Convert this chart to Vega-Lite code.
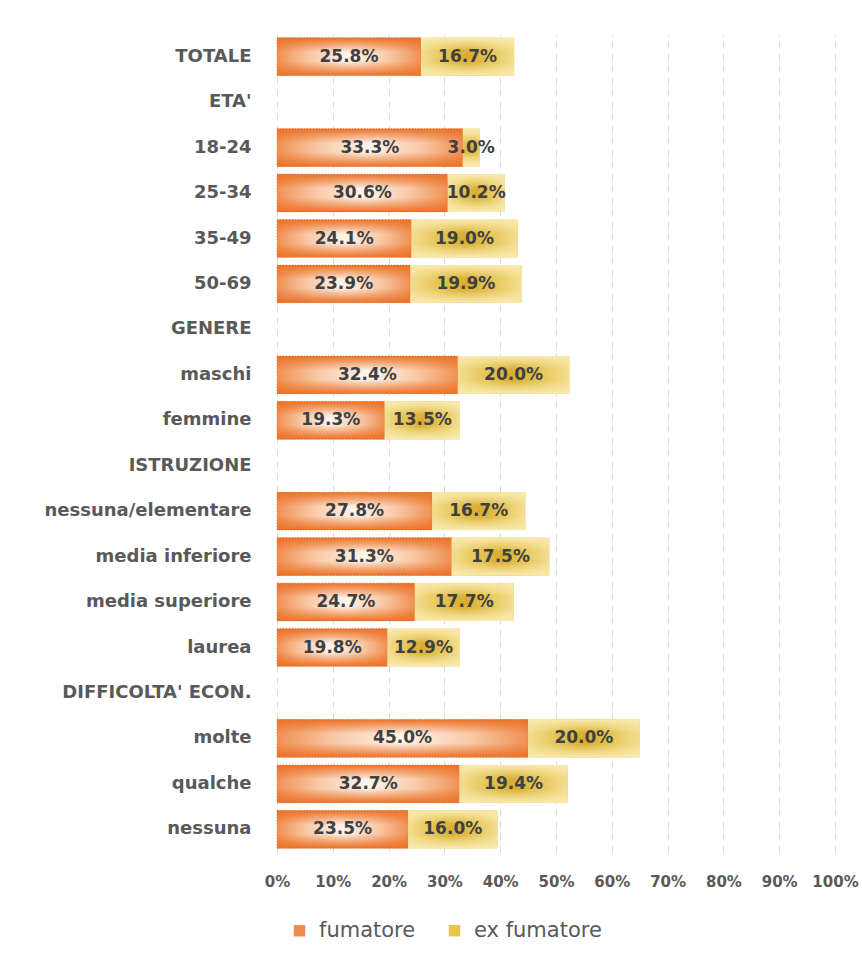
{
  "$schema": "https://vega.github.io/schema/vega-lite/v6.json",
  "width": 558,
  "height": 818,
  "autosize": {"type": "none"},
  "padding": {"left": 277, "top": 34, "right": 27, "bottom": 110},
  "background": "white",
  "config": {
    "view": {"stroke": null},
    "font": "DejaVu Sans"
  },
  "data": {
    "values": [
      {"categoria": "TOTALE", "tipo": "fumatore", "ordine": 1, "valore": 0.258},
      {"categoria": "TOTALE", "tipo": "ex fumatore", "ordine": 2, "valore": 0.167},
      {"categoria": "18-24", "tipo": "fumatore", "ordine": 1, "valore": 0.333},
      {"categoria": "18-24", "tipo": "ex fumatore", "ordine": 2, "valore": 0.030},
      {"categoria": "25-34", "tipo": "fumatore", "ordine": 1, "valore": 0.306},
      {"categoria": "25-34", "tipo": "ex fumatore", "ordine": 2, "valore": 0.102},
      {"categoria": "35-49", "tipo": "fumatore", "ordine": 1, "valore": 0.241},
      {"categoria": "35-49", "tipo": "ex fumatore", "ordine": 2, "valore": 0.190},
      {"categoria": "50-69", "tipo": "fumatore", "ordine": 1, "valore": 0.239},
      {"categoria": "50-69", "tipo": "ex fumatore", "ordine": 2, "valore": 0.199},
      {"categoria": "maschi", "tipo": "fumatore", "ordine": 1, "valore": 0.324},
      {"categoria": "maschi", "tipo": "ex fumatore", "ordine": 2, "valore": 0.200},
      {"categoria": "femmine", "tipo": "fumatore", "ordine": 1, "valore": 0.193},
      {"categoria": "femmine", "tipo": "ex fumatore", "ordine": 2, "valore": 0.135},
      {"categoria": "nessuna/elementare", "tipo": "fumatore", "ordine": 1, "valore": 0.278},
      {"categoria": "nessuna/elementare", "tipo": "ex fumatore", "ordine": 2, "valore": 0.167},
      {"categoria": "media inferiore", "tipo": "fumatore", "ordine": 1, "valore": 0.313},
      {"categoria": "media inferiore", "tipo": "ex fumatore", "ordine": 2, "valore": 0.175},
      {"categoria": "media superiore", "tipo": "fumatore", "ordine": 1, "valore": 0.247},
      {"categoria": "media superiore", "tipo": "ex fumatore", "ordine": 2, "valore": 0.177},
      {"categoria": "laurea", "tipo": "fumatore", "ordine": 1, "valore": 0.198},
      {"categoria": "laurea", "tipo": "ex fumatore", "ordine": 2, "valore": 0.129},
      {"categoria": "molte", "tipo": "fumatore", "ordine": 1, "valore": 0.450},
      {"categoria": "molte", "tipo": "ex fumatore", "ordine": 2, "valore": 0.200},
      {"categoria": "qualche", "tipo": "fumatore", "ordine": 1, "valore": 0.327},
      {"categoria": "qualche", "tipo": "ex fumatore", "ordine": 2, "valore": 0.194},
      {"categoria": "nessuna", "tipo": "fumatore", "ordine": 1, "valore": 0.235},
      {"categoria": "nessuna", "tipo": "ex fumatore", "ordine": 2, "valore": 0.160}
    ]
  },
  "transform": [
    {"stack": "valore", "groupby": ["categoria"], "sort": [{"field": "ordine"}], "as": ["x0", "x1"]},
    {"calculate": "(datum.x0 + datum.x1) / 2", "as": "mid"}
  ],
  "encoding": {
    "y": {
      "field": "categoria",
      "type": "nominal",
      "scale": {
        "domain": ["TOTALE", "ETA'", "18-24", "25-34", "35-49", "50-69", "GENERE", "maschi", "femmine", "ISTRUZIONE", "nessuna/elementare", "media inferiore", "media superiore", "laurea", "DIFFICOLTA' ECON.", "molte", "qualche", "nessuna"],
        "paddingInner": 0.17,
        "paddingOuter": 0.085
      },
      "axis": {
        "title": null,
        "domain": false,
        "ticks": false,
        "labelPadding": 26,
        "labelFontSize": 18,
        "labelFontWeight": "bold",
        "labelColor": "#595959",
        "labelLimit": 300
      }
    }
  },
  "layer": [
    {
      "mark": {"type": "bar"},
      "encoding": {
        "x": {
          "field": "x0",
          "type": "quantitative",
          "scale": {"domain": [0, 1]},
          "axis": {
            "title": null,
            "format": ".0%",
            "values": [0, 0.1, 0.2, 0.3, 0.4, 0.5, 0.6, 0.7, 0.8, 0.9, 1],
            "labelOverlap": false,
            "labelBound": false,
            "labelFlush": false,
            "domain": false,
            "ticks": false,
            "grid": true,
            "gridColor": "#d9d9d9",
            "gridDash": [7, 5],
            "gridWidth": 1,
            "labelPadding": 22,
            "labelFontSize": 15,
            "labelFontWeight": "bold",
            "labelColor": "#595959"
          }
        },
        "x2": {"field": "x1"},
        "color": {
          "field": "tipo",
          "type": "nominal",
          "scale": {"domain": ["fumatore", "ex fumatore"], "range": ["#ef8c4c", "#e8c54a"]},
          "legend": {
            "title": null,
            "orient": "none",
            "direction": "horizontal",
            "legendX": 12,
            "legendY": 886,
            "symbolType": "square",
            "symbolSize": 130,
            "symbolStrokeWidth": 0,
            "labelFontSize": 21,
            "labelColor": "#595959",
            "labelOffset": 9,
            "columnPadding": 28
          }
        }
      }
    },
    {
      "transform": [{"filter": "datum.tipo === 'fumatore'"}],
      "mark": {
        "type": "bar",
        "fill": {
          "gradient": "radial",
          "x1": 0.5, "y1": 0.5, "r1": 0,
          "x2": 0.5, "y2": 0.5, "r2": 0.62,
          "stops": [
            {"offset": 0, "color": "#fef6f0"},
            {"offset": 0.45, "color": "#f8c7a4"},
            {"offset": 1, "color": "#eb7228"}
          ]
        }
      },
      "encoding": {
        "x": {"field": "x0", "type": "quantitative"},
        "x2": {"field": "x1"}
      }
    },
    {
      "transform": [{"filter": "datum.tipo === 'fumatore'"}],
      "mark": {
        "type": "bar",
        "fill": {
          "gradient": "linear",
          "x1": 0, "y1": 0, "x2": 0, "y2": 1,
          "stops": [
            {"offset": 0, "color": "rgba(235,114,40,1)"},
            {"offset": 0.38, "color": "rgba(235,114,40,0)"},
            {"offset": 0.62, "color": "rgba(235,114,40,0)"},
            {"offset": 1, "color": "rgba(235,114,40,1)"}
          ]
        },
        "stroke": "#e06a22",
        "strokeWidth": 0.8,
        "strokeDash": [1, 2]
      },
      "encoding": {
        "x": {"field": "x0", "type": "quantitative"},
        "x2": {"field": "x1"}
      }
    },
    {
      "transform": [{"filter": "datum.tipo === 'ex fumatore'"}],
      "mark": {
        "type": "bar",
        "fill": {
          "gradient": "radial",
          "x1": 0.5, "y1": 0.5, "r1": 0,
          "x2": 0.5, "y2": 0.5, "r2": 0.62,
          "stops": [
            {"offset": 0, "color": "#d8ac2c"},
            {"offset": 0.5, "color": "#e9cc66"},
            {"offset": 1, "color": "#f9e9ad"}
          ]
        }
      },
      "encoding": {
        "x": {"field": "x0", "type": "quantitative"},
        "x2": {"field": "x1"}
      }
    },
    {
      "transform": [{"filter": "datum.tipo === 'ex fumatore'"}],
      "mark": {
        "type": "bar",
        "fill": {
          "gradient": "linear",
          "x1": 0, "y1": 0, "x2": 0, "y2": 1,
          "stops": [
            {"offset": 0, "color": "rgba(249,233,173,1)"},
            {"offset": 0.35, "color": "rgba(249,233,173,0)"},
            {"offset": 0.65, "color": "rgba(249,233,173,0)"},
            {"offset": 1, "color": "rgba(249,233,173,1)"}
          ]
        }
      },
      "encoding": {
        "x": {"field": "x0", "type": "quantitative"},
        "x2": {"field": "x1"}
      }
    },
    {
      "mark": {
        "type": "text",
        "fontSize": 17,
        "fontWeight": "bold",
        "color": "#404040",
        "align": "center",
        "baseline": "middle"
      },
      "encoding": {
        "x": {"field": "mid", "type": "quantitative"},
        "text": {"field": "valore", "type": "quantitative", "format": ".1%"}
      }
    }
  ]
}
